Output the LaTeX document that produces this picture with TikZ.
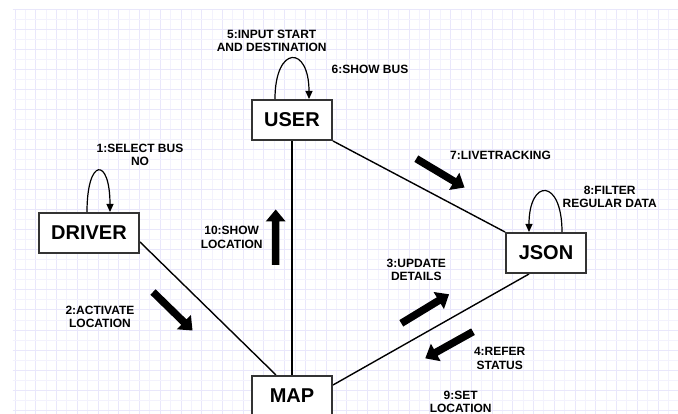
\documentclass[tikz,border=0pt]{standalone}
\usepackage{fontspec}
\setmainfont{Liberation Sans}
\usetikzlibrary{arrows.meta,calc,backgrounds}
\definecolor{gridminor}{RGB}{243,242,253}
\definecolor{gridmajor}{RGB}{233,231,251}
\definecolor{boxline}{RGB}{51,51,51}
\newcommand\blockarrow[2]{%
  \coordinate (ba-b) at ($(#2)!12pt!(#1)$);
  \fill[black] ($(#1)!3.75pt!90:(#2)$) -- ($(ba-b)!3.75pt!-90:(#1)$) -- ($(ba-b)!10pt!-90:(#1)$) -- (#2)
     -- ($(ba-b)!10pt!90:(#1)$) -- ($(ba-b)!3.75pt!90:(#1)$) -- ($(#1)!3.75pt!-90:(#2)$) -- cycle;
}
\begin{document}
\begin{tikzpicture}[x=1pt,y=-1pt,
  entity/.style={draw=boxline, line width=2pt, fill=white, minimum height=40pt, inner sep=0pt,
    font=\fontsize{20}{24}\selectfont\bfseries},
  lbl/.style={font=\fontsize{12}{13.5}\selectfont\bfseries, align=center, inner sep=0pt},
  conn/.style={line width=1.4pt, black},
  selfloop/.style={line width=1.2pt, black, -{Triangle[length=8pt,width=7pt]}}]
\useasboundingbox (0,0) rectangle (678,414);
% entities
\node[entity, minimum width=80pt] (user) at (292,120) {USER};
\node[entity, minimum width=100pt] (driver) at (89,233) {DRIVER};
\node[entity, minimum width=80pt] (json) at (546,253) {JSON};
\node[entity, minimum width=80pt] (map) at (292,396) {MAP};
\begin{pgfonlayer}{background}
\fill[white] (0,0) rectangle (678,414);
% grid
\foreach \k in {0,...,63}{
  \pgfmathsetmacro\gx{15+10.37*\k}
  \ifodd\k \def\gc{gridminor}\else\def\gc{gridmajor}\fi
  \draw[\gc, line width=0.8pt] (\gx,9.3) -- (\gx,414);
}
\foreach \k in {0,...,40}{
  \pgfmathsetmacro\gy{9.3+10.02*\k}
  \ifodd\k \def\gc{gridminor}\else\def\gc{gridmajor}\fi
  \draw[\gc, line width=0.8pt] (12.7,\gy) -- (678,\gy);
}
% connectors
\draw[conn] (user.south) -- (map.north);
\draw[conn] (user.south east) -- (json.north west);
\draw[conn] (driver.-10) -- ([xshift=-16pt]map.north);
\draw[conn] ([yshift=11pt]map.east) -- ([xshift=-17pt]json.south);
\end{pgfonlayer}
% self loops
\draw[selfloop] ([xshift=-17pt]user.north) .. controls +(0,-54) and +(0,-54) .. ([xshift=17pt]user.north);
\draw[selfloop] ([xshift=-2pt]driver.north) .. controls +(0,-55) and +(0,-55) .. ([xshift=21pt]driver.north);
\draw[selfloop] ([xshift=16pt]json.north) .. controls +(0,-54) and +(0,-54) .. ([xshift=-17pt]json.north);
% block arrows
\coordinate (a10t) at (275.7,265); \coordinate (a10p) at (275.7,209.5);
\coordinate (a2t) at (153,292); \coordinate (a2p) at (192.5,330.5);
\coordinate (a7t) at (416.3,158.7); \coordinate (a7p) at (464.5,187.5);
\coordinate (a3t) at (401.3,323.3); \coordinate (a3p) at (449,294.3);
\coordinate (a4t) at (473,331.7); \coordinate (a4p) at (425.3,358.3);
\blockarrow{a10t}{a10p}
\blockarrow{a2t}{a2p}
\blockarrow{a7t}{a7p}
\blockarrow{a3t}{a3p}
\blockarrow{a4t}{a4p}
% labels
\node[lbl] (l5) at (271.7,41) {5:INPUT START\\AND DESTINATION};
\node[lbl] (l6) at (370,69.5) {6:SHOW BUS};
\node[lbl] (l1) at (140,155) {1:SELECT BUS\\NO};
\node[lbl] (l7) at (500.5,155) {7:LIVETRACKING};
\node[lbl] (l8) at (609.7,196.7) {8:FILTER\\REGULAR DATA};
\node[lbl] (l10) at (231.7,237.5) {10:SHOW\\LOCATION};
\node[lbl] (l2) at (100,317) {2:ACTIVATE\\LOCATION};
\node[lbl] (l3) at (416.3,269.8) {3:UPDATE\\DETAILS};
\node[lbl] (l4) at (499.7,358.3) {4:REFER\\STATUS};
\node[lbl] (l9) at (460.7,401.7) {9:SET\\LOCATION};
\end{tikzpicture}
\end{document}
